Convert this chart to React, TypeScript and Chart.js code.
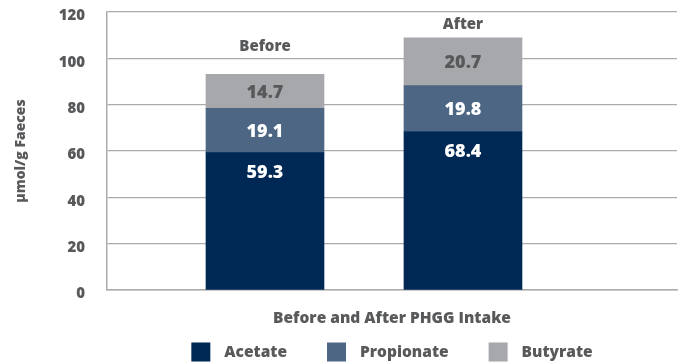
import React, { useEffect, useRef } from "react";
import { Chart, registerables } from "chart.js";

Chart.register(...registerables);

const categories = ["Before", "After"];
const acetate = [59.3, 68.4];
const propionate = [19.1, 19.8];
const butyrate = [14.7, 20.7];
const seriesNames = ["Acetate", "Propionate", "Butyrate"];
const yTicks = [0, 20, 40, 60, 80, 100, 120];
const xTitle = "Before and After PHGG Intake";
const yTitle = "µmol/g Faeces";

const COLORS = ["#002855", "#4c6684", "#a7a8ab"];
const LABEL_COLORS = ["#ffffff", "#ffffff", "#58595b"];
const TEXT = "#58595b";
const GRID = "#ababab";
const FONT = "'Open Sans', sans-serif";
const W = "800";

const overlayPlugin = {
  id: "overlay",
  afterDatasetsDraw(chart: any) {
    const ctx = chart.ctx;
    const area = chart.chartArea;
    ctx.save();
    // value labels
    chart.data.datasets.forEach((ds: any, di: number) => {
      const meta = chart.getDatasetMeta(di);
      meta.data.forEach((bar: any, i: number) => {
        const v = ds.data[i].y;
        const top = bar.y;
        const bottom = bar.base;
        let y = (top + bottom) / 2 + 1.5;
        if (ds.labelAnchor === "top") y = top + 20;
        ctx.font = `${W} 18px ${FONT}`;
        ctx.fillStyle = LABEL_COLORS[di];
        ctx.textAlign = "center";
        ctx.textBaseline = "middle";
        ctx.fillText(v.toFixed(1), bar.x, y);
      });
    });
    // category labels above stacks
    const lastMeta = chart.getDatasetMeta(chart.data.datasets.length - 1);
    const gaps = [28, 13];
    categories.forEach((c, i) => {
      const bar: any = lastMeta.data[i];
      ctx.font = `${W} 15px ${FONT}`;
      ctx.fillStyle = TEXT;
      ctx.textAlign = "center";
      ctx.textBaseline = "middle";
      ctx.fillText(c, bar.x, bar.y - gaps[i]);
    });
    // x title
    const cx = (area.left + area.right) / 2;
    ctx.font = `${W} 15.5px ${FONT}`;
    ctx.fillStyle = TEXT;
    ctx.textAlign = "center";
    ctx.textBaseline = "middle";
    ctx.fillText(xTitle, cx, 319);
    // y title
    ctx.save();
    ctx.translate(21, (area.top + area.bottom) / 2);
    ctx.rotate(-Math.PI / 2);
    ctx.font = `${W} 14px ${FONT}`;
    ctx.fillText(yTitle, 0, 0);
    ctx.restore();
    // legend
    ctx.font = `${W} 15.5px ${FONT}`;
    const box = 19;
    const gapText = 14;
    const gapItem = 40;
    const widths = seriesNames.map((n) => box + gapText + ctx.measureText(n).width);
    const total = widths.reduce((a, b) => a + b, 0) + gapItem * (seriesNames.length - 1);
    let x = cx - total / 2;
    const ly = 352;
    seriesNames.forEach((n, i) => {
      ctx.fillStyle = COLORS[i];
      ctx.fillRect(x, ly - box / 2, box, box);
      ctx.fillStyle = TEXT;
      ctx.textAlign = "left";
      ctx.textBaseline = "middle";
      ctx.fillText(n, x + box + gapText, ly + 1);
      x += widths[i] + gapItem;
    });
    ctx.restore();
  },
};

export default function App() {
  const ref = useRef<HTMLCanvasElement | null>(null);
  useEffect(() => {
    document.body.style.margin = "0";
    const toPts = (arr: number[]) => arr.map((v, i) => ({ x: i, y: v }));
    const chart = new Chart(ref.current!, {
      type: "bar",
      data: {
        datasets: [
          { label: seriesNames[0], data: toPts(acetate), backgroundColor: COLORS[0], labelAnchor: "top" } as any,
          { label: seriesNames[1], data: toPts(propionate), backgroundColor: COLORS[1] } as any,
          { label: seriesNames[2], data: toPts(butyrate), backgroundColor: COLORS[2] } as any,
        ],
      },
      options: {
        animation: false,
        responsive: false,
        maintainAspectRatio: false,
        barThickness: 118,
        layout: { padding: { top: 12, right: 7, left: 0, bottom: 0 } },
        plugins: { legend: { display: false }, tooltip: { enabled: false } },
        scales: {
          x: {
            type: "linear",
            stacked: true,
            offset: false,
            min: -0.798,
            max: 2.081,
            ticks: { display: false },
            grid: { display: false, offset: false },
            border: { display: true, color: GRID, width: 1.5 },
            afterFit(scale: any) {
              scale.height = 73;
            },
          },
          y: {
            stacked: true,
            min: 0,
            max: 120,
            afterBuildTicks(scale: any) {
              scale.ticks = yTicks.map((v) => ({ value: v }));
            },
            ticks: {
              padding: 22,
              color: TEXT,
              labelOffset: 4,
              font: { family: FONT, size: 15, weight: W },
            },
            grid: { color: GRID, lineWidth: 1.2, drawTicks: false },
            border: { display: true, color: GRID, width: 1.5 },
            afterFit(scale: any) {
              scale.width = 107;
              scale.paddingTop = 0;
              scale.paddingBottom = 0;
            },
          },
        },
      } as any,
      plugins: [overlayPlugin],
    });
    return () => chart.destroy();
  }, []);
  return (
    <div style={{ position: "absolute", left: 0, top: 0, width: 684, height: 363, background: "#fff" }}>
      <canvas ref={ref} width={684} height={363} />
    </div>
  );
}
